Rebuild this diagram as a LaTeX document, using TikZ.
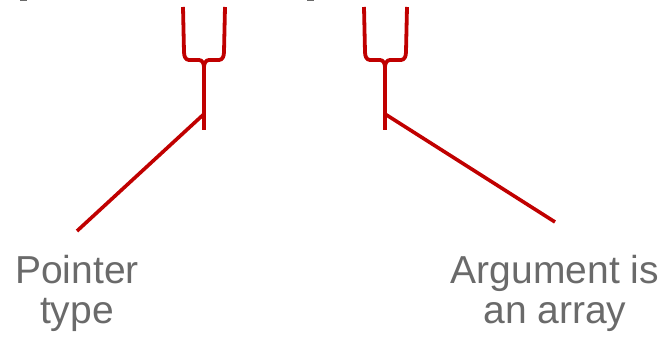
\documentclass[tikz,border=0pt]{standalone}
\usepackage{fontspec}
\setmainfont{Liberation Sans}
\definecolor{bracered}{HTML}{C00000}
\definecolor{labelgray}{HTML}{6A6A6A}
\begin{document}
\begin{tikzpicture}[x=1pt,y=-1pt,
  bracepath/.style={draw=bracered,line width=3.8pt,line join=round},
  stemline/.style={draw=bracered,line width=4.2pt},
  leader/.style={draw=bracered,line width=3.6pt},
  label/.style={text=labelgray,inner sep=0pt,align=center,anchor=north,
    font=\fontsize{39}{40}\selectfont}]
\useasboundingbox (0,0) rectangle (667,337);

% slivers of text just above the edge
\fill[labelgray] (20,0) rectangle (27,1.3);
\fill[labelgray] (307,0) rectangle (314,1.3);

% left brace and its stem
\coordinate (lstem) at (204,130);
\coordinate (ltap) at (204,114);
\coordinate (lcusp) at (204,67);
\path[bracepath] (183,7) -- (184,52) to[out=-90,in=180] (189,60) -- (199,60)
  to[out=0,in=90] (lcusp);
\path[bracepath] (225,7) -- (224,52) to[out=-90,in=0] (219,60) -- (209,60)
  to[out=180,in=90] (lcusp);
\draw[stemline] (lcusp) -- (lstem);

% right brace and its stem
\coordinate (rstem) at (385,130);
\coordinate (rtap) at (385,114);
\coordinate (rcusp) at (385,67);
\path[bracepath] (364,7) -- (365,52) to[out=-90,in=180] (370,60) -- (380,60)
  to[out=0,in=90] (rcusp);
\path[bracepath] (407,7) -- (406,52) to[out=-90,in=0] (401,60) -- (390,60)
  to[out=180,in=90] (rcusp);
\draw[stemline] (rcusp) -- (rstem);

% labels
\node[label] (ptr) at (77,255) {Pointer\\type};
\node[label] (arg) at (555,255) {Argument is\\an array};

% leader lines
\coordinate (lend) at (77,231);
\coordinate (rend) at (555,222);
\draw[leader] (ltap) -- (lend);
\draw[leader] (rtap) -- (rend);
\end{tikzpicture}
\end{document}
